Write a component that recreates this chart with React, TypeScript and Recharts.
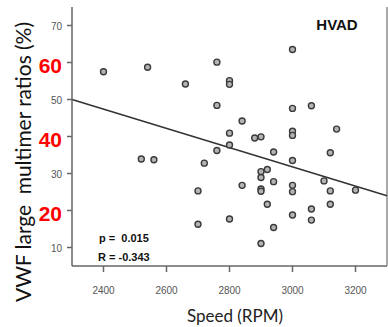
import React from 'react';
import { ScatterChart, Scatter, XAxis, YAxis, ReferenceLine } from 'recharts';

const speedRPM = [2400, 2540, 2660, 2760, 2760, 2800, 2800, 2840, 2800, 2800, 2880, 2900, 3000, 3000, 3060, 3000, 3000, 3140, 2940, 3120, 3000, 2760, 2720, 2520, 2560, 2900, 2920, 2900, 2700, 2840, 2900, 2900, 2940, 3000, 3000, 3100, 3120, 3200, 3120, 2920, 3060, 3060, 3000, 2800, 2700, 2940, 2900];
const vwfRatio = [57.5, 58.7, 54.2, 60.1, 48.4, 55.1, 54.1, 44.2, 40.9, 37.7, 39.6, 39.9, 63.5, 47.6, 48.3, 41.4, 40.3, 42.0, 35.8, 35.6, 33.5, 36.2, 32.8, 33.9, 33.7, 30.5, 31.1, 28.9, 25.3, 26.8, 25.8, 25.2, 27.8, 26.8, 25.1, 28.0, 25.3, 25.5, 21.7, 21.7, 20.4, 17.4, 18.8, 17.7, 16.3, 15.4, 11.1];

const xTicks = [2400, 2600, 2800, 3000, 3200];
const yTicks = [10, 20, 30, 40, 50, 60, 70];
const redTicks = [20, 40, 60];
const xDomain = [2300, 3300];
const yDomain = [5, 75];
const fitLine = [{ x: 2300, y: 50 }, { x: 3300, y: 24 }];

const groupLabel = 'HVAD';
const pText = 'p =  0.015';
const rText = 'R = -0.343';
const xTitle = 'Speed (RPM)';
const yTitle = 'VWF large  multimer ratios (%)';

const points = speedRPM.map((s, i) => ({ x: s, y: vwfRatio[i] }));

const YTick = (props: any) => {
  const { x, y, payload } = props;
  const v = payload.value;
  if (redTicks.includes(v)) {
    return (
      <text x={x} y={y + 3} textAnchor="end" dominantBaseline="central" fontSize={21} fontWeight="bold" fill="#ff0000" fontFamily="Liberation Sans, Arial, sans-serif">
        {v}
      </text>
    );
  }
  return (
    <text x={x} y={y + 1} textAnchor="end" dominantBaseline="central" fontSize={10} fill="#555" fontFamily="Liberation Sans, Arial, sans-serif">
      {v}
    </text>
  );
};

const XTick = (props: any) => {
  const { x, y, payload } = props;
  return (
    <text x={x} y={y} textAnchor="middle" dominantBaseline="central" fontSize={10} fill="#555" fontFamily="Liberation Sans, Arial, sans-serif">
      {payload.value}
    </text>
  );
};

const Dot = (props: any) => {
  const { cx, cy } = props;
  return <circle cx={cx} cy={cy} r={3} fill="#b4b4b4" stroke="#3a3a3a" strokeWidth={1.4} />;
};

export default function App() {
  return (
    <div style={{ position: 'absolute', left: 0, top: 0, width: 388, height: 327, background: '#fff' }}>
      <ScatterChart width={388} height={327} margin={{ top: 7, right: 1, bottom: 0, left: 0 }}>
        <XAxis
          type="number"
          dataKey="x"
          domain={xDomain}
          ticks={xTicks}
          allowDataOverflow
          height={61}
          tickSize={6}
          tickMargin={18}
          tick={<XTick />}
          stroke="#666"
          strokeWidth={1.5}
        />
        <YAxis
          type="number"
          dataKey="y"
          domain={yDomain}
          ticks={yTicks}
          allowDataOverflow
          width={72}
          tickSize={5}
          tickMargin={5}
          tick={<YTick />}
          stroke="#666"
          strokeWidth={1.5}
        />
        <ReferenceLine x={3300} stroke="#aaa" strokeWidth={2} ifOverflow="visible" />
        <ReferenceLine segment={fitLine} stroke="#333" strokeWidth={1.5} ifOverflow="visible" />
        <Scatter data={points} shape={<Dot />} isAnimationActive={false} />
      </ScatterChart>
      <svg width={388} height={327} style={{ position: 'absolute', left: 0, top: 0, pointerEvents: 'none' }}>
        <text x={337} y={24} textAnchor="middle" dominantBaseline="central" fontSize={15} fontWeight="bold" fill="#111" fontFamily="Liberation Sans, Arial, sans-serif">
          {groupLabel}
        </text>
        <text x={99} y={238} dominantBaseline="central" fontSize={11} fontWeight="bold" fill="#111" fontFamily="Liberation Sans, Arial, sans-serif" style={{ whiteSpace: 'pre' }}>
          {pText}
        </text>
        <text x={98} y={257} dominantBaseline="central" fontSize={11} fontWeight="bold" fill="#111" fontFamily="Liberation Sans, Arial, sans-serif">
          {rText}
        </text>
        <text x={235} y={315} textAnchor="middle" dominantBaseline="central" fontSize={17} fill="#222" fontFamily="Lato, sans-serif">
          {xTitle}
        </text>
        <text x={22} y={162} textAnchor="middle" dominantBaseline="central" fontSize={21} fill="#111" fontFamily="Lato, sans-serif" transform="rotate(-90 22 162)" textLength={280} lengthAdjust="spacing" style={{ whiteSpace: 'pre' }}>
          {yTitle}
        </text>
      </svg>
    </div>
  );
}
